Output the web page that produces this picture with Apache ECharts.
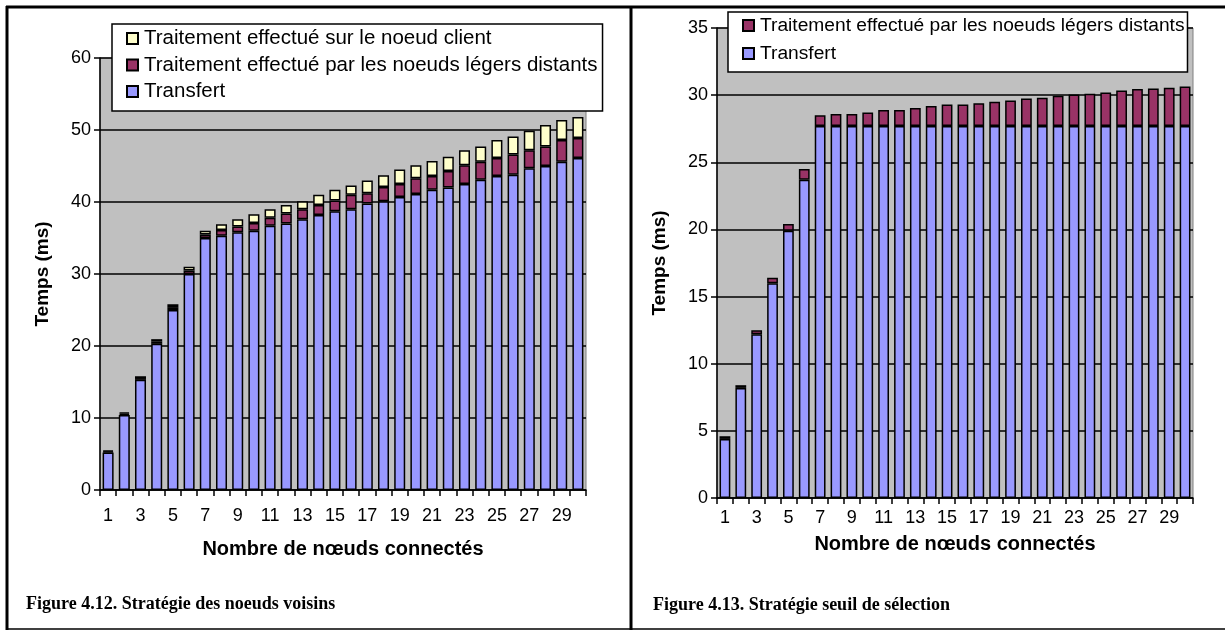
<!DOCTYPE html>
<html>
<head>
<meta charset="utf-8">
<script src="https://cdn.jsdelivr.net/npm/echarts@6/dist/echarts.min.js"></script>
<style>
html,body{margin:0;padding:0;background:#fff;}
#chart{width:1225px;height:631px;}
</style>
</head>
<body>
<div id="chart"></div>
<script>
// ---- data ----
var categories = ['1','2','3','4','5','6','7','8','9','10','11','12','13','14','15','16','17','18','19','20','21','22','23','24','25','26','27','28','29','30'];

// Figure 4.12 : Stratégie des noeuds voisins
var leftTransfert = [5.2,10.4,15.3,20.3,25.0,30.0,35.0,35.3,35.8,36.0,36.7,37.0,37.6,38.2,38.7,39.0,39.8,40.1,40.7,41.1,41.7,42.0,42.5,43.1,43.6,43.8,44.7,45.0,45.6,46.1];
var leftDistants  = [0.15,0.2,0.25,0.3,0.4,0.5,0.5,0.8,0.8,1.1,1.1,1.4,1.4,1.4,1.5,2.0,1.4,2.0,1.8,2.2,1.9,2.3,2.6,2.5,2.5,2.8,2.5,2.7,3.0,2.8];
var leftClient    = [0.15,0.2,0.25,0.35,0.4,0.5,0.5,0.8,1.0,1.2,1.2,1.2,1.1,1.4,1.5,1.3,1.8,1.6,2.0,1.8,2.1,2.0,2.1,2.1,2.5,2.5,2.7,3.0,2.8,2.9];

// Figure 4.13 : Stratégie seuil de sélection
var rightTransfert = [4.4,8.2,12.2,16.0,19.9,23.7,27.7,27.7,27.7,27.7,27.7,27.7,27.7,27.7,27.7,27.7,27.7,27.7,27.7,27.7,27.7,27.7,27.7,27.7,27.7,27.7,27.7,27.7,27.7,27.7];
var rightDistants  = [0.2,0.2,0.3,0.4,0.5,0.8,0.8,0.9,0.9,1.0,1.2,1.2,1.35,1.5,1.6,1.6,1.7,1.8,1.9,2.05,2.1,2.25,2.35,2.4,2.5,2.65,2.75,2.8,2.85,2.95];

var nameClient = 'Traitement effectué sur le noeud client';
var nameDistants = 'Traitement effectué par les noeuds légers distants';
var nameTransfert = 'Transfert';

var xTitle = 'Nombre de nœuds connectés';
var yTitle = 'Temps (ms)';
var caption1 = 'Figure 4.12. Stratégie des noeuds voisins';
var caption2 = 'Figure 4.13. Stratégie seuil de sélection';

// ---- styles ----
var SANS = 'Liberation Sans, Arial, sans-serif';
var SERIF = 'Liberation Serif, Times New Roman, serif';
var colTransfert = '#9999FF', colDistants = '#993366', colClient = '#FFFFCC';

function xAxis(gridIndex, margin, nameGap) {
  return {
    type: 'category', gridIndex: gridIndex, data: categories,
    name: xTitle, nameLocation: 'middle', nameGap: nameGap,
    nameTextStyle: {fontFamily: SANS, fontSize: 20, fontWeight: 'bold', color: '#000'},
    axisLine: {show: true, lineStyle: {color: '#000', width: 1.5}},
    axisTick: {show: true, interval: 0, length: 6, lineStyle: {color: '#000', width: 1.5}},
    axisLabel: {interval: 1, fontFamily: SANS, fontSize: 18, color: '#000', margin: margin},
    splitLine: {show: false}
  };
}
function yAxis(gridIndex, max, interval, nameGap) {
  return {
    type: 'value', gridIndex: gridIndex, min: 0, max: max, interval: interval,
    name: yTitle, nameLocation: 'middle', nameGap: nameGap,
    nameTextStyle: {fontFamily: SANS, fontSize: 19, fontWeight: 'bold', color: '#000'},
    axisLine: {show: true, lineStyle: {color: '#000', width: 1.5}},
    axisTick: {show: true, length: 6, lineStyle: {color: '#000', width: 1.5}},
    axisLabel: {fontFamily: SANS, fontSize: 18, color: '#000', margin: 9},
    splitLine: {show: true, lineStyle: {color: '#000', width: 1.5}}
  };
}
function bar(name, data, color, xi, stack) {
  return {
    type: 'bar', name: name, data: data, stack: stack,
    xAxisIndex: xi, yAxisIndex: xi, barWidth: '68%',
    itemStyle: {color: color, borderColor: '#000', borderWidth: 1.5},
    emphasis: {disabled: true}, animation: false
  };
}
function legend(left, top, names, fontSize, gap, padding) {
  return {
    left: left, top: top, orient: 'vertical', data: names,
    backgroundColor: '#fff', borderColor: '#000', borderWidth: 1.5,
    padding: padding, itemGap: gap, itemWidth: 11, itemHeight: 11,
    icon: 'rect', selectedMode: false,
    textStyle: {fontFamily: SANS, fontSize: fontSize, color: '#000', padding: [0,0,0,1]}
  };
}

var chart = echarts.init(document.getElementById('chart'));
chart.setOption({
  backgroundColor: '#fff',
  animation: false,
  title: [
    {text: caption1, left: 21, top: 590, textStyle: {fontFamily: SERIF, fontSize: 18, fontWeight: 'bold', color: '#000'}},
    {text: caption2, left: 648, top: 591, textStyle: {fontFamily: SERIF, fontSize: 18, fontWeight: 'bold', color: '#000'}}
  ],
  grid: [
    {left: 100, right: 639, top: 58, bottom: 141, show: true, backgroundColor: '#C0C0C0', borderColor: '#808080', borderWidth: 1},
    {left: 717, right: 32, top: 28, bottom: 133, show: true, backgroundColor: '#C0C0C0', borderColor: '#808080', borderWidth: 1}
  ],
  legend: [
    legend(112, 24, [nameClient, nameDistants, nameTransfert], 20.5, 5.5, [4, 5, 9, 14]),
    legend(728, 12, [nameDistants, nameTransfert], 19.2, 9, [4, 3, 9, 14])
  ],
  xAxis: [xAxis(0, 17, 49), xAxis(1, 11, 36)],
  yAxis: [yAxis(0, 60, 10, 48), yAxis(1, 35, 5, 48)],
  series: [
    bar(nameTransfert, leftTransfert, colTransfert, 0, 'L'),
    bar(nameDistants, leftDistants, colDistants, 0, 'L'),
    bar(nameClient, leftClient, colClient, 0, 'L'),
    bar(nameTransfert, rightTransfert, colTransfert, 1, 'R'),
    bar(nameDistants, rightDistants, colDistants, 1, 'R')
  ],
  graphic: [
    {type: 'line', shape: {x1: 6, y1: 7, x2: 1225, y2: 7}, style: {stroke: '#000', lineWidth: 3}, silent: true},
    {type: 'line', shape: {x1: 7, y1: 6, x2: 7, y2: 630}, style: {stroke: '#000', lineWidth: 3}, silent: true},
    {type: 'line', shape: {x1: 631, y1: 6, x2: 631, y2: 630}, style: {stroke: '#000', lineWidth: 3}, silent: true},
    {type: 'line', shape: {x1: 6, y1: 629, x2: 1225, y2: 629}, style: {stroke: '#000', lineWidth: 1.5}, silent: true}
  ]
});
</script>
</body>
</html>
